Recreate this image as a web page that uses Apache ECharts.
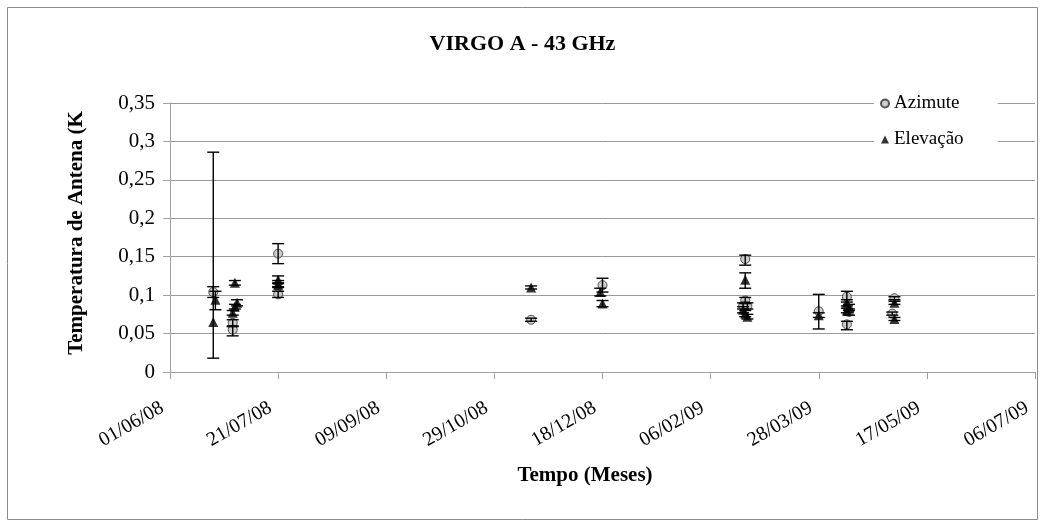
<!DOCTYPE html>
<html>
<head>
<meta charset="utf-8">
<script src="https://cdn.jsdelivr.net/npm/echarts@6/dist/echarts.min.js"></script>
<style>
html, body { margin: 0; padding: 0; background: #fff; }
#chart { width: 1045px; height: 527px; }
</style>
</head>
<body>
<div id="chart"></div>
<script>
// dados
const startDate = '2008-06-01';
const xTicksDays = 400; // 01/06/08 .. 06/07/09

const azDates = ['2008-06-21', '2008-06-30', '2008-06-30', '2008-07-21', '2008-07-21', '2008-11-15',
    '2008-12-18', '2009-02-22', '2009-02-22', '2009-02-21', '2009-02-23', '2009-03-28',
    '2009-04-10', '2009-04-11', '2009-04-10', '2009-05-02', '2009-05-01'];
const azValues = [0.104, 0.064, 0.055, 0.154, 0.101, 0.068,
    0.113, 0.147, 0.093, 0.086, 0.086, 0.079,
    0.098, 0.078, 0.062, 0.096, 0.076];
const azErrPlus = [0.007, 0.004, 0.004, 0.013, 0.004, 0.002,
    0.009, 0.005, 0.004, 0.004, 0.004, 0.022,
    0.007, 0.004, 0.004, 0.002, 0.002];
const azErrMinus = [0.007, 0.004, 0.008, 0.013, 0.004, 0.002,
    0.009, 0.008, 0.004, 0.004, 0.004, 0.023,
    0.007, 0.004, 0.007, 0.002, 0.002];

const elDates = ['2008-06-21', '2008-06-22', '2008-07-01', '2008-07-02', '2008-07-01', '2008-06-30',
    '2008-07-21', '2008-07-21', '2008-07-21', '2008-11-15', '2008-12-17', '2008-12-18',
    '2009-02-22', '2009-02-21', '2009-02-22', '2009-02-23', '2009-03-28', '2009-04-10',
    '2009-04-11', '2009-04-10', '2009-05-02', '2009-05-02'];
const elValues = [0.065, 0.094, 0.116, 0.090, 0.085, 0.077,
    0.120, 0.115, 0.113, 0.110, 0.104, 0.089,
    0.120, 0.081, 0.076, 0.072, 0.074, 0.090,
    0.084, 0.080, 0.090, 0.069];
const elErrPlus = [0.221, 0.011, 0.003, 0.004, 0.003, 0.003,
    0.005, 0.004, 0.003, 0.002, 0.005, 0.004,
    0.009, 0.004, 0.004, 0.003, 0.003, 0.004,
    0.004, 0.003, 0.002, 0.002];
const elErrMinus = [0.047, 0.013, 0.003, 0.004, 0.003, 0.003,
    0.005, 0.004, 0.003, 0.002, 0.005, 0.004,
    0.011, 0.004, 0.004, 0.003, 0.003, 0.004,
    0.004, 0.003, 0.002, 0.002];

const DAY = 86400000;
const t0 = Date.parse(startDate + 'T00:00:00Z');
function toDays(d) {
    return Math.round((Date.parse(d + 'T00:00:00Z') - t0) / DAY);
}
function dayLabel(v) {
    const d = new Date(t0 + v * DAY);
    const dd = String(d.getUTCDate()).padStart(2, '0');
    const mm = String(d.getUTCMonth() + 1).padStart(2, '0');
    const yy = String(d.getUTCFullYear()).slice(2);
    return dd + '/' + mm + '/' + yy;
}

const azPoints = azDates.map((d, i) => [toDays(d), azValues[i]]);
const elPoints = elDates.map((d, i) => [toDays(d), elValues[i]]);
const azBars = azDates.map((d, i) => [toDays(d), azValues[i] - azErrMinus[i], azValues[i] + azErrPlus[i]]);
const elBars = elDates.map((d, i) => [toDays(d), elValues[i] - elErrMinus[i], elValues[i] + elErrPlus[i]]);

const FONT = '"Liberation Serif", "Times New Roman", serif';

// barra de erro com tampas
function renderErr(params, api) {
    const top = api.coord([api.value(0), api.value(2)]);
    const bot = api.coord([api.value(0), api.value(1)]);
    const w = 6;
    const st = { stroke: '#000', lineWidth: 1.4 };
    return {
        type: 'group',
        children: [
            { type: 'line', shape: { x1: top[0], y1: top[1], x2: bot[0], y2: bot[1] }, style: st },
            { type: 'line', shape: { x1: top[0] - w, y1: top[1], x2: top[0] + w, y2: top[1] }, style: st },
            { type: 'line', shape: { x1: bot[0] - w, y1: bot[1], x2: bot[0] + w, y2: bot[1] }, style: st }
        ]
    };
}

const myChart = echarts.init(document.getElementById('chart'), null, { renderer: 'canvas' });
const option = {
    animation: false,
    backgroundColor: '#fff',
    textStyle: { fontFamily: FONT, color: '#000' },
    title: {
        text: 'VIRGO A - 43 GHz',
        left: 'center',
        top: 28,
        textStyle: { fontFamily: FONT, fontSize: 22, fontWeight: 'bold', color: '#000' }
    },
    grid: { left: 170, right: 10, top: 103, bottom: 155 },
    legend: {
        data: [
            { name: 'Azimute', icon: 'circle' },
            { name: 'Elevação', icon: 'triangle' }
        ],
        orient: 'vertical',
        left: 874,
        top: 90,
        itemWidth: 8,
        itemHeight: 8,
        itemGap: 17,
        padding: [4, 34, 4, 6],
        backgroundColor: '#fff',
        textStyle: { fontFamily: FONT, fontSize: 19, color: '#000' }
    },
    xAxis: {
        type: 'value',
        min: 0,
        max: xTicksDays,
        interval: 50,
        splitLine: { show: false },
        axisLine: { lineStyle: { color: '#a0a0a0', width: 1 } },
        axisTick: { show: true, length: 7, lineStyle: { color: '#a0a0a0' } },
        axisLabel: {
            rotate: 30,
            margin: 30,
            padding: [0, 9, 0, 0],
            fontSize: 20,
            fontFamily: FONT,
            color: '#000',
            formatter: dayLabel
        }
    },
    yAxis: {
        type: 'value',
        min: 0,
        max: 0.35,
        interval: 0.05,
        axisLine: { show: true, lineStyle: { color: '#a0a0a0', width: 1 } },
        axisTick: { show: true, length: 7, lineStyle: { color: '#a0a0a0' } },
        splitLine: { lineStyle: { color: '#9a9a9a', width: 1 } },
        axisLabel: {
            margin: 15,
            fontSize: 21,
            fontFamily: FONT,
            color: '#000',
            formatter: v => String(Number(v.toFixed(2))).replace('.', ',')
        }
    },
    graphic: [
        {
            type: 'rect',
            shape: { x: 7.5, y: 7.5, width: 1030, height: 512 },
            style: { fill: 'none', stroke: '#8c8c8c', lineWidth: 1 },
            silent: true
        },
        {
            type: 'text',
            x: 77,
            y: 233,
            rotation: Math.PI / 2,
            style: {
                text: 'Temperatura de Antena (K',
                font: 'bold 21px ' + FONT,
                fill: '#000',
                textAlign: 'center',
                textVerticalAlign: 'middle'
            }
        },
        {
            type: 'text',
            x: 585,
            y: 476,
            style: {
                text: 'Tempo (Meses)',
                font: 'bold 21px ' + FONT,
                fill: '#000',
                textAlign: 'center',
                textVerticalAlign: 'middle'
            }
        }
    ],
    series: [
        {
            name: 'Azimute',
            type: 'scatter',
            data: azPoints,
            symbol: 'circle',
            symbolSize: 9,
            itemStyle: { color: '#c0c0c0', borderColor: '#303030', borderWidth: 1 },
            z: 3
        },
        {
            name: 'Azimute-erro',
            type: 'custom',
            data: azBars,
            renderItem: renderErr,
            encode: { x: 0, y: [1, 2] },
            z: 4
        },
        {
            name: 'Elevação',
            type: 'scatter',
            data: elPoints,
            symbol: 'triangle',
            symbolSize: [10, 10],
            itemStyle: { color: '#000' },
            z: 5
        },
        {
            name: 'Elevação-erro',
            type: 'custom',
            data: elBars,
            renderItem: renderErr,
            encode: { x: 0, y: [1, 2] },
            z: 6
        }
    ]
};
myChart.setOption(option);
</script>
</body>
</html>
